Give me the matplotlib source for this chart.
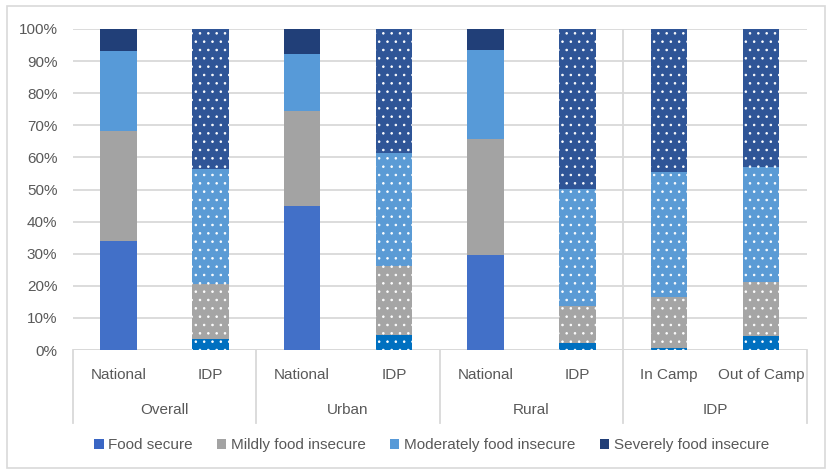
import numpy as np
import matplotlib
matplotlib.use("Agg")
import matplotlib.pyplot as plt
from matplotlib.patches import Patch, Rectangle

plt.rcParams["font.family"] = ["Liberation Sans", "DejaVu Sans"]
plt.rcParams["hatch.linewidth"] = 0.6

# ── Data (percent of households) ─────────────────────────────────────────
sub_labels   = ["National", "IDP", "National", "IDP", "National", "IDP", "In Camp", "Out of Camp"]
group_labels = ["Overall", "Urban", "Rural", "IDP"]
series       = ["Food secure", "Mildly food insecure", "Moderately food insecure", "Severely food insecure"]

food_secure = [34.0,  3.4, 44.9,  4.7, 29.5,  2.3,  0.7,  4.4]
mildly      = [34.2, 17.2, 29.5, 21.5, 36.2, 11.3, 15.7, 16.9]
moderately  = [24.8, 35.9, 17.8, 35.2, 27.7, 36.6, 39.2, 35.6]
severely    = [ 7.0, 43.5,  7.8, 38.6,  6.6, 49.8, 44.4, 43.1]

# bars drawn with a dot pattern (IDP populations)
dotted = [False, True, False, True, False, True, True, True]

solid_colors  = ["#4270c8", "#a3a3a3", "#579ad8", "#213f78"]
dotted_colors = ["#0070c0", "#a5a5a5", "#5b9bd5", "#2f5597"]

fig = plt.figure(figsize=(8.3, 4.75), dpi=100)
ax = fig.add_axes([0.0876, 0.263, 0.8844, 0.676])

x = np.arange(len(sub_labels))
bottom = np.zeros(len(sub_labels))
for vals, sc, dc in zip([food_secure, mildly, moderately, severely], solid_colors, dotted_colors):
    vals = np.array(vals)
    for i in range(len(x)):
        if dotted[i]:
            ax.bar(x[i], vals[i], 0.4, bottom=bottom[i], color=dc,
                   edgecolor="white", hatch="..", linewidth=0, zorder=3)
        else:
            ax.bar(x[i], vals[i], 0.4, bottom=bottom[i], color=sc,
                   linewidth=0, zorder=3)
    bottom += vals

ax.set_xlim(-0.5, len(x) - 0.5)
ax.set_ylim(0, 100)
ax.set_yticks(np.arange(0, 101, 10))
ax.set_yticklabels([f"{v}%" for v in range(0, 101, 10)], color="#595959", fontsize=11)
ax.set_xticks([])
ax.tick_params(axis="y", length=0, pad=11)
ax.yaxis.grid(True, color="#d9d9d9", linewidth=1.3, zorder=0)
for s in ax.spines.values():
    s.set_visible(False)
ax.axhline(0, color="#d9d9d9", linewidth=1.3, zorder=1)

# category table below the axis
tr = ax.get_xaxis_transform()
for b in [-0.5, 1.5, 3.5, 5.5, 7.5]:
    ax.plot([b, b], [0, -0.227], transform=tr, color="#d9d9d9", lw=1.3, clip_on=False)
ax.plot([5.5, 5.5], [0, 1], transform=tr, color="#d9d9d9", lw=1.3, zorder=1)
for i, lab in enumerate(sub_labels):
    ax.text(x[i], -0.078, lab, transform=tr, ha="center", va="center",
            color="#595959", fontsize=11)
for g, lab in enumerate(group_labels):
    ax.text(2 * g + 0.5, -0.187, lab, transform=tr, ha="center", va="center",
            color="#595959", fontsize=11)

handles = [Patch(facecolor=c, edgecolor="none") for c in solid_colors]
handles[0] = Patch(facecolor="#3a66c4", edgecolor="none")
fig.legend(handles, series, loc="center", bbox_to_anchor=(0.52, 0.063), ncol=4,
           frameon=False, fontsize=11, labelcolor="#595959", handlelength=0.6,
           handleheight=0.6, handletextpad=0.3, columnspacing=1.6)

# outer chart border
fig.patches.append(Rectangle((0.009, 0.015), 0.985, 0.973, transform=fig.transFigure,
                             fill=False, edgecolor="#d9d9d9", linewidth=1.2))

fig.savefig("out.png", dpi=100)
